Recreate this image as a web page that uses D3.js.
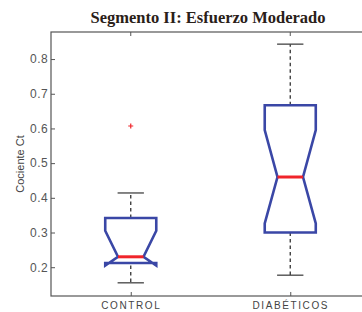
<!DOCTYPE html>
<html><head><meta charset="utf-8">
<script src="https://cdn.jsdelivr.net/npm/d3@7"></script>
<style>
html,body{margin:0;padding:0;background:#fff;}
svg{display:block;}
</style></head>
<body>
<svg id="chart" width="362" height="312"></svg>
<script>
// ---- data ----
const categories = ["CONTROL", "DIABÉTICOS"];
const positions = [1, 2];
const whiskerLow  = [0.155, 0.177];
const q1          = [0.212, 0.300];
const notchLow    = [0.205, 0.326];
const medians     = [0.230, 0.460];
const notchHigh   = [0.305, 0.595];
const q3          = [0.342, 0.667];
const whiskerHigh = [0.414, 0.843];
const outliers    = [[0.607], []];
const yTicks = [0.2, 0.3, 0.4, 0.5, 0.6, 0.7, 0.8];
const titleText = "Segmento II: Esfuerzo Moderado";
const yLabel = "Cociente Ct";

(function () {
// ---- layout ----
const svg = d3.select("#chart");
const mLeft = 51, mRight = 370, mTop = 32, mBottom = 296;
const x = d3.scaleLinear().domain([0.5, 2.5]).range([mLeft, mRight]);
const y = d3.scaleLinear().domain([0.117, 0.878]).range([mBottom, mTop]);
const boxW = 0.32;      // data units (full width)
const capW = 0.165;
const blue = "#3a47a6", red = "#f0242a", axisCol = "#555";

// axes frame
svg.append("rect").attr("x", mLeft).attr("y", mTop)
  .attr("width", mRight - mLeft).attr("height", mBottom - mTop)
  .attr("fill", "none").attr("stroke", axisCol).attr("stroke-width", 1.2);

// y axis ticks (inward)
const yAxis = d3.axisLeft(y).tickValues(yTicks).tickFormat(d3.format(".1f"))
  .tickSizeInner(-4).tickSizeOuter(0).tickPadding(3);
const gy = svg.append("g").attr("transform", `translate(${mLeft},0)`).call(yAxis);
gy.select(".domain").remove();
gy.selectAll("line").attr("stroke", axisCol);
gy.selectAll("text").attr("fill", "#555").style("font-family", "Arial, 'Liberation Sans', sans-serif")
  .style("font-size", "12px").style("letter-spacing", "0.4px");

// x axis (bottom) ticks inward
const xAxis = d3.axisBottom(x).tickValues(positions).tickFormat((d, i) => categories[i])
  .tickSizeInner(-4).tickSizeOuter(0).tickPadding(6);
const gx = svg.append("g").attr("transform", `translate(0,${mBottom})`).call(xAxis);
gx.select(".domain").remove();
gx.selectAll("line").attr("stroke", axisCol);
gx.selectAll("text").attr("fill", "#444").style("font-family", "Arial, 'Liberation Sans', sans-serif")
  .style("font-size", "10px").style("letter-spacing", "1.6px");

// top ticks
svg.append("g").selectAll("line").data(positions).join("line")
  .attr("x1", d => x(d)).attr("x2", d => x(d)).attr("y1", mTop).attr("y2", mTop + 4)
  .attr("stroke", axisCol);

// title
svg.append("text").attr("x", 208).attr("y", 23)
  .attr("text-anchor", "middle")
  .style("font-family", "'Liberation Serif', 'Times New Roman', serif")
  .style("font-weight", "bold").style("font-size", "16.5px").attr("fill", "#2a2018")
  .text(titleText);

// y label
svg.append("text").attr("transform", `translate(24,${(mTop + mBottom) / 2}) rotate(-90)`)
  .attr("text-anchor", "middle")
  .style("font-family", "Arial, 'Liberation Sans', sans-serif").style("font-size", "11px")
  .attr("fill", "#444").text(yLabel);

// boxes
const g = svg.append("g");
positions.forEach((p, i) => {
  g.append("line").attr("x1", x(p)).attr("x2", x(p)).attr("y1", y(q3[i])).attr("y2", y(whiskerHigh[i]))
    .attr("stroke", "#333").attr("stroke-width", 1.3).attr("stroke-dasharray", "3.5,3");
  g.append("line").attr("x1", x(p)).attr("x2", x(p)).attr("y1", y(Math.min(q1[i], notchLow[i]))).attr("y2", y(whiskerLow[i]))
    .attr("stroke", "#333").attr("stroke-width", 1.3).attr("stroke-dasharray", "3.5,3");
  [whiskerHigh[i], whiskerLow[i]].forEach(v => {
    g.append("line").attr("x1", x(p - capW / 2)).attr("x2", x(p + capW / 2))
      .attr("y1", y(v)).attr("y2", y(v)).attr("stroke", "#444").attr("stroke-width", 1.3);
  });
  const hw = boxW / 2;
  const pts = [
    [p - hw, q1[i]], [p - hw, notchLow[i]], [p - hw / 2, medians[i]], [p - hw, notchHigh[i]], [p - hw, q3[i]],
    [p + hw, q3[i]], [p + hw, notchHigh[i]], [p + hw / 2, medians[i]], [p + hw, notchLow[i]], [p + hw, q1[i]]
  ];
  g.append("path").attr("d", d3.line().x(d => x(d[0])).y(d => y(d[1]))(pts) + "Z")
    .attr("fill", "none").attr("stroke", blue).attr("stroke-width", 2.6).attr("stroke-linejoin", "miter");
  g.append("line").attr("x1", x(p - hw / 2)).attr("x2", x(p + hw / 2))
    .attr("y1", y(medians[i])).attr("y2", y(medians[i])).attr("stroke", red).attr("stroke-width", 3);
  outliers[i].forEach(v => {
    g.append("path").attr("d", `M${x(p) - 2.5},${y(v)}h5M${x(p)},${y(v) - 2.5}v5`)
      .attr("stroke", red).attr("stroke-width", 1.2);
  });
});
})();
</script>
</body></html>
